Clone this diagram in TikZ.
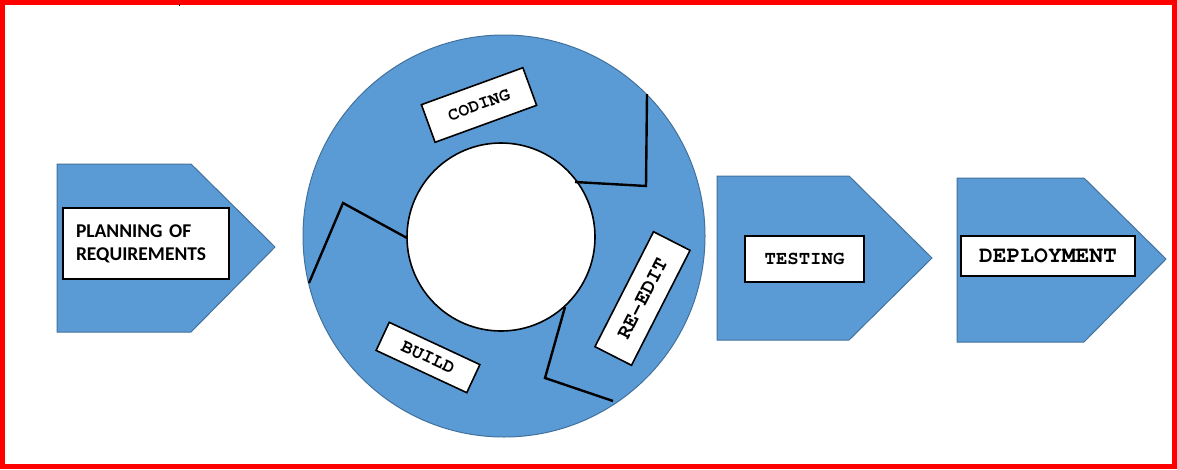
\documentclass[tikz,border=0pt]{standalone}
\usepackage{fontspec}
\setmainfont{Carlito}
\newfontfamily\monof{TeX Gyre Cursor}
\definecolor{fillblue}{HTML}{5B9BD5}
\definecolor{edgeblue}{HTML}{41719C}
\begin{document}
\begin{tikzpicture}[x=1pt,y=-1pt,
  shapebox/.style={fill=fillblue,draw=edgeblue,line width=1pt},
  labelbox/.style={draw=black,fill=white,line width=1.6pt,inner sep=0pt},
  monolabel/.style={labelbox,font=\monof\bfseries},
  ringline/.style={draw=black,line width=2.4pt}]
\useasboundingbox (0,0) rectangle (1177,469);
\draw[red,line width=5pt] (2.5,2.5) rectangle (1174.5,466);
\fill[black] (178.5,4) rectangle (180,6);
% pentagons
\draw[shapebox] (57,164) -- (191,164) -- (275,247) -- (191,332) -- (57,332) -- cycle;
\draw[shapebox] (717,176) -- (849,176) -- (932,258) -- (849,340) -- (717,340) -- cycle;
\draw[shapebox] (957,178) -- (1084,178) -- (1166,259) -- (1084,342) -- (957,342) -- cycle;
% ring
\node[circle,shapebox,minimum size=402pt,inner sep=0pt] (ring) at (504,236) {};
\node[circle,draw=black,fill=white,line width=1.6pt,minimum size=188pt,inner sep=0pt] (hole) at (501,237) {};
% black lines
\coordinate (a1) at (575,182); \coordinate (a2) at (646,186); \coordinate (a3) at (647,94);
\coordinate (b1) at (407,238); \coordinate (b2) at (343,203); \coordinate (b3) at (309,283);
\coordinate (c1) at (565,307); \coordinate (c2) at (545,378); \coordinate (c3) at (613,401);
\draw[ringline] (a1) -- (a2) -- (a3);
\draw[ringline] (b1) -- (b2) -- (b3);
\draw[ringline] (c1) -- (c2) -- (c3);
% labels
\node[labelbox,minimum width=166pt,minimum height=71pt,text width=140pt,align=left,
  font=\bfseries\fontsize{19.5}{23}\selectfont] (plan) at (146,243.5) {PLANNING OF\\REQUIREMENTS};
\node[monolabel,minimum width=108pt,minimum height=40pt,rotate=20,font=\monof\bfseries\fontsize{18}{20}\selectfont] (coding) at (479,105) {CODING};
\node[monolabel,minimum width=100pt,minimum height=31pt,rotate=-25,font=\monof\bfseries\fontsize{19}{20}\selectfont] (build) at (428,357.5) {BUILD};
\node[monolabel,minimum width=129pt,minimum height=41pt,rotate=63,font=\monof\bfseries\fontsize{21}{22}\selectfont] (reedit) at (642.5,298.5) {RE-EDIT};
\node[monolabel,minimum width=119pt,minimum height=46pt,font=\monof\bfseries\fontsize{19}{20}\selectfont] (testing) at (804.5,259) {TESTING};
\node[monolabel,minimum width=174pt,minimum height=40pt,font=\monof\bfseries\fontsize{23}{24}\selectfont] (deploy) at (1048,256) {DEPLOYMENT};
\end{tikzpicture}
\end{document}
